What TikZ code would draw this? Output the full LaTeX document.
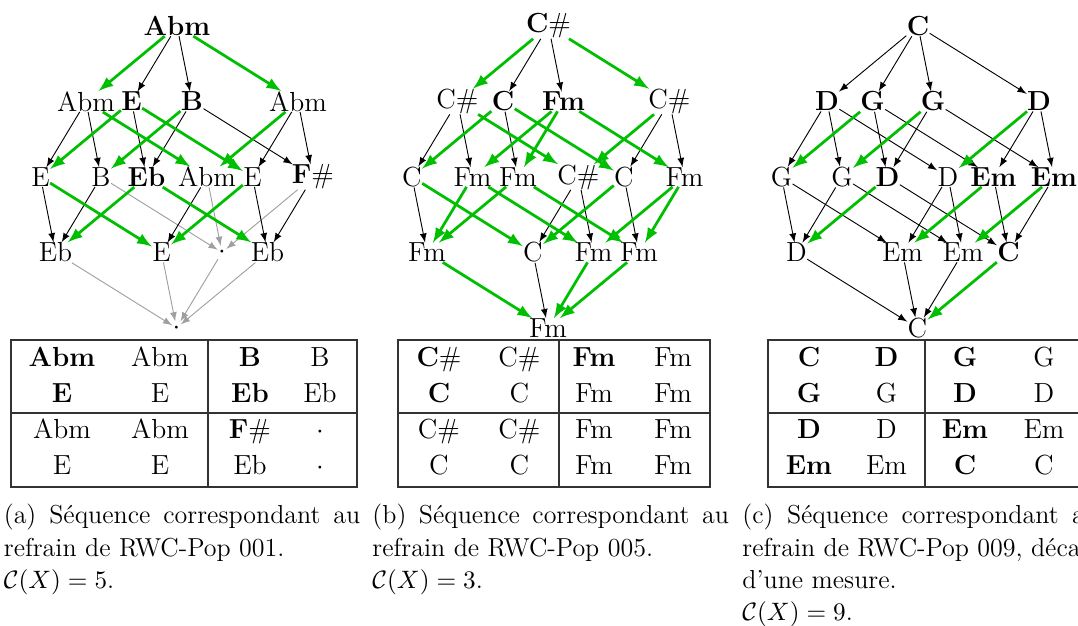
\documentclass[tikz,border=0pt]{standalone}
\newcommand\placecube[3]{%
  \foreach \idx/\lab in {#3} {%
    \pgfmathsetmacro\xx{#2+{0,-91,15,-76,-45.5,-136.5,-30.5,-121.5,121,30,136,45,75.5,-15.5,90.5,-0.5}[\idx]}%
    \pgfmathsetmacro\yy{26+75.5*{0,1,1,2,1,2,2,3,1,2,2,3,2,3,3,4}[\idx]}%
    \node[lbl] (#1\idx) at (\xx,\yy) {\lab};
  }}
\begin{document}
\begin{tikzpicture}[x=0.43478pt,y=-0.43478pt,
  lbl/.style={inner sep=0pt, font=\fontsize{12}{14.5}\selectfont},
  tcell/.style={inner sep=0pt, anchor=base, font=\fontsize{12}{14.5}\selectfont},
  capline/.style={inner sep=0pt, anchor=base west, font=\fontsize{11.3}{14}\selectfont},
  diff/.style={draw=black, line width=0.4pt, -latex},
  same/.style={draw=green!75!black, line width=1.2pt, -latex},
  void/.style={draw=gray!75, line width=0.4pt, -latex},
  tline/.style={draw=black!80, line width=0.5pt}]
\useasboundingbox (0,0) rectangle (1078,626);
\clip (0,0) rectangle (1078,626);

% ---------- panel (a) ----------
\placecube{a}{177}{0/{\textbf{Abm}},1/Abm,2/{\textbf{B}},3/B,4/{\textbf{E}},5/E,6/{\textbf{Eb}},7/Eb,8/Abm,9/Abm,10/{\textbf{F}\#},11/{$\cdot$},12/E,13/E,14/Eb,15/{$\cdot$}}
\foreach \s/\t/\st in {3/11/void,7/15/void,9/11/void,10/11/void,11/15/void,13/15/void,14/15/void,
  0/2/diff,0/4/diff,1/3/diff,1/5/diff,2/6/diff,2/10/diff,3/7/diff,4/6/diff,5/7/diff,8/10/diff,8/12/diff,9/13/diff,10/14/diff,12/14/diff,
  0/1/same,0/8/same,1/9/same,2/3/same,4/5/same,4/12/same,5/13/same,6/7/same,6/14/same,8/9/same,12/13/same}
  \draw[\st] (a\s) -- (a\t);

% ---------- panel (b) ----------
\placecube{b}{548.5}{0/{\textbf{C}\#},1/C\#,2/{\textbf{Fm}},3/Fm,4/{\textbf{C}},5/C,6/Fm,7/Fm,8/C\#,9/C\#,10/Fm,11/Fm,12/C,13/C,14/Fm,15/Fm}
\foreach \s/\t/\st in {0/2/diff,0/4/diff,1/3/diff,1/5/diff,4/6/diff,5/7/diff,8/10/diff,8/12/diff,9/11/diff,9/13/diff,12/14/diff,13/15/diff,
  0/1/same,0/8/same,1/9/same,2/3/same,2/6/same,2/10/same,3/7/same,3/11/same,4/5/same,4/12/same,5/13/same,6/7/same,6/14/same,7/15/same,8/9/same,10/11/same,10/14/same,11/15/same,12/13/same,14/15/same}
  \draw[\st] (b\s) -- (b\t);

% ---------- panel (c) ----------
\placecube{c}{918}{0/{\textbf{C}},1/{\textbf{D}},2/{\textbf{G}},3/G,4/{\textbf{G}},5/G,6/{\textbf{D}},7/D,8/{\textbf{D}},9/D,10/{\textbf{Em}},11/Em,12/{\textbf{Em}},13/Em,14/{\textbf{C}},15/C}
\foreach \s/\t/\st in {0/1/diff,0/2/diff,0/4/diff,0/8/diff,1/3/diff,1/5/diff,1/9/diff,2/6/diff,2/10/diff,3/7/diff,3/11/diff,4/6/diff,4/12/diff,5/7/diff,5/13/diff,6/14/diff,7/15/diff,8/10/diff,8/12/diff,9/11/diff,9/13/diff,10/14/diff,11/15/diff,12/14/diff,13/15/diff,
  2/3/same,4/5/same,6/7/same,8/9/same,10/11/same,12/13/same,14/15/same}
  \draw[\st] (c\s) -- (c\t);

% ---------- tables ----------
\draw[tline] (11,340) rectangle (357,487);
\draw[tline] (208,340) -- (208,487);
\draw[tline] (11,413) -- (357,413);
\foreach \c/\lab [count=\k] in {62/{\textbf{Abm}},160/Abm,250/{\textbf{B}},320/B} \node[tcell] (ta1\k) at (\c,366) {\lab};
\foreach \c/\lab [count=\k] in {62/{\textbf{E}},160/E,250/{\textbf{Eb}},320/Eb} \node[tcell] (ta2\k) at (\c,402) {\lab};
\foreach \c/\lab [count=\k] in {62/Abm,160/Abm,250/{\textbf{F}\#},320/{$\cdot$}} \node[tcell] (ta3\k) at (\c,438) {\lab};
\foreach \c/\lab [count=\k] in {62/E,160/E,250/Eb,320/{$\cdot$}} \node[tcell] (ta4\k) at (\c,474) {\lab};

\draw[tline] (398,340) rectangle (710,487);
\draw[tline] (559,340) -- (559,487);
\draw[tline] (398,413) -- (710,413);
\foreach \c/\lab [count=\k] in {439/{\textbf{C}\#},519.5/C\#,594/{\textbf{Fm}},673/Fm} \node[tcell] (tb1\k) at (\c,366) {\lab};
\foreach \c/\lab [count=\k] in {439/{\textbf{C}},519.5/C,594/Fm,673/Fm} \node[tcell] (tb2\k) at (\c,402) {\lab};
\foreach \c/\lab [count=\k] in {439/C\#,519.5/C\#,594/Fm,673/Fm} \node[tcell] (tb3\k) at (\c,438) {\lab};
\foreach \c/\lab [count=\k] in {439/C,519.5/C,594/Fm,673/Fm} \node[tcell] (tb4\k) at (\c,474) {\lab};

\draw[tline] (768,340) rectangle (1086,487);
\draw[tline] (925,340) -- (925,487);
\draw[tline] (768,413) -- (1086,413);
\foreach \c/\lab [count=\k] in {809/{\textbf{C}},886.5/{\textbf{D}},965/{\textbf{G}},1044/G} \node[tcell] (tc1\k) at (\c,366) {\lab};
\foreach \c/\lab [count=\k] in {809/{\textbf{G}},886.5/G,965/{\textbf{D}},1044/D} \node[tcell] (tc2\k) at (\c,402) {\lab};
\foreach \c/\lab [count=\k] in {809/{\textbf{D}},886.5/D,965/{\textbf{Em}},1044/Em} \node[tcell] (tc3\k) at (\c,438) {\lab};
\foreach \c/\lab [count=\k] in {809/{\textbf{Em}},886.5/Em,965/{\textbf{C}},1044/C} \node[tcell] (tc4\k) at (\c,474) {\lab};

% ---------- captions ----------
\node[capline] (capa1) at (3.4,523) {\makebox[155pt][s]{(a) Séquence correspondant au}};
\node[capline] (capa2) at (3.4,556) {refrain de RWC-Pop 001.};
\node[capline] (capa3) at (3.4,588) {$\mathcal{C}(X)=5$.};
\node[capline] (capb1) at (372,523) {\makebox[155pt][s]{(b) Séquence correspondant au}};
\node[capline] (capb2) at (372,556) {refrain de RWC-Pop 005.};
\node[capline] (capb3) at (372,588) {$\mathcal{C}(X)=3$.};
\node[capline] (capc1) at (742,523) {\makebox[155pt][s]{(c) Séquence correspondant au}};
\node[capline] (capc2) at (742,556) {\makebox[155pt][s]{refrain de RWC-Pop 009, décalé}};
\node[capline] (capc3) at (742,588) {d'une mesure.};
\node[capline] (capc4) at (742,620) {$\mathcal{C}(X)=9$.};
\end{tikzpicture}
\end{document}
